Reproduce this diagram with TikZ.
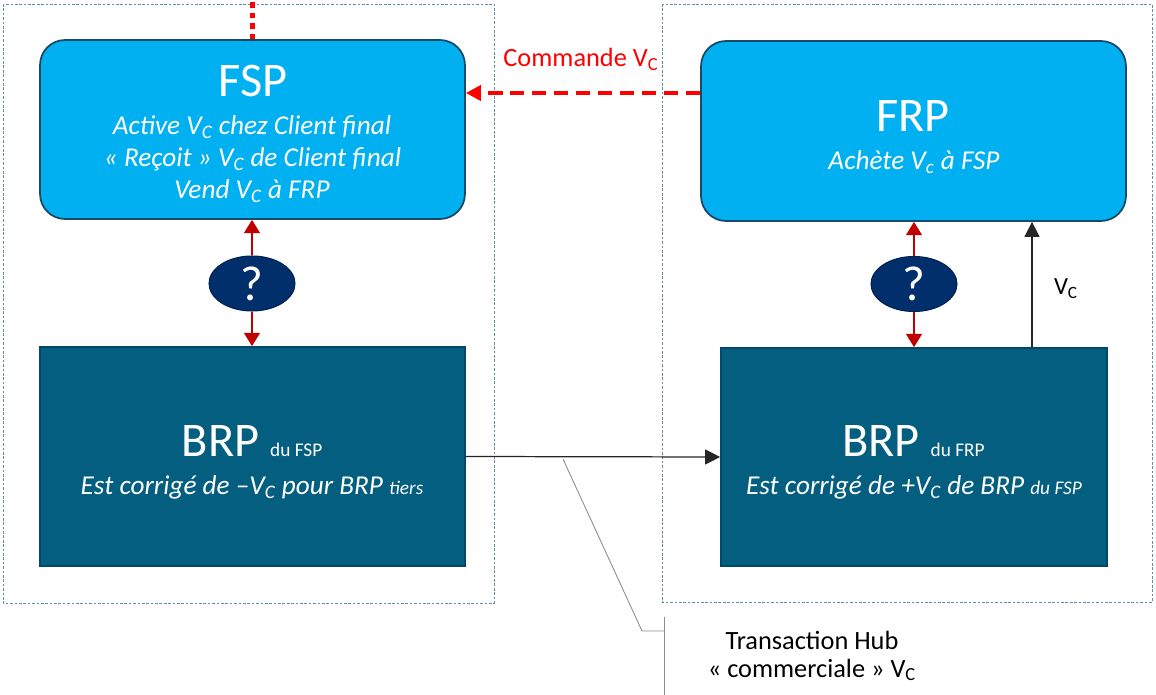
\documentclass[tikz,border=0pt]{standalone}
\usepackage{fontspec}
\setmainfont{Carlito}
\usepackage{tikz}
\usetikzlibrary{arrows.meta,shapes.geometric}

\definecolor{fspcyan}{HTML}{00B0F0}
\definecolor{boxedge}{HTML}{174A68}
\definecolor{brpteal}{HTML}{035E80}
\definecolor{brpedge}{HTML}{02486A}
\definecolor{qnavy}{HTML}{012F6C}
\definecolor{qedge}{HTML}{00224F}
\definecolor{linkred}{HTML}{C00000}
\definecolor{cmdred}{HTML}{FF0000}
\definecolor{framegray}{HTML}{5E8FA9}
\definecolor{hubgray}{HTML}{8C8C8C}

\newcommand{\Vc}{V\textsubscript{C}}

\tikzset{
  frame/.style={draw=framegray, line width=0.4pt, dash pattern=on 1.5pt off 1pt},
  rolebox/.style={rectangle, rounded corners=0.5cm, fill=fspcyan, draw=boxedge, line width=1pt, inner sep=0pt},
  brpbox/.style={rectangle, fill=brpteal, draw=brpedge, line width=1pt, inner sep=0pt},
  qmark/.style={ellipse, fill=qnavy, draw=qedge, line width=0.6pt, minimum width=1.72cm, minimum height=1.1cm,
    inner sep=0pt, text=white, font=\fontsize{28}{30}\selectfont},
  titletxt/.style={anchor=base, text=white, inner sep=0pt, font=\fontsize{27.5}{30}\selectfont},
  roletxt/.style={anchor=base, text=white, inner sep=0pt, font=\fontsize{15.5}{18}\selectfont\itshape},
  plaintxt/.style={anchor=base, inner sep=0pt, font=\fontsize{15}{17}\selectfont},
  linkarrow/.style={draw=linkred, line width=0.7pt, -{Triangle[length=7.5pt,width=9pt]}},
  flowarrow/.style={draw=black!85, line width=0.7pt, -{Triangle[length=8.5pt,width=8.5pt]}},
  cmdarrow/.style={draw=cmdred, line width=2.8pt, dash pattern=on 8pt off 4.5pt, -{Triangle[length=8.5pt,width=8.5pt]}},
  hubline/.style={draw=hubgray, line width=0.5pt}
}

\begin{document}
\begin{tikzpicture}[x=0.02cm,y=-0.02cm]
  \useasboundingbox (0,0) rectangle (1156,695);
  % \draw[help lines,step=50] (0,0) grid (1156,695);

  % dotted frames around both sides
  \draw[frame] (3,4) rectangle (494,603);
  \draw[frame] (662,4) rectangle (1152,602);

  % boxes
  \node[rolebox, minimum width=8.5cm, minimum height=3.58cm] (fsp) at (252.5,129.5) {};
  \node[rolebox, minimum width=8.5cm, minimum height=3.6cm] (frp) at (913.5,131) {};
  \node[brpbox, minimum width=8.5cm, minimum height=4.38cm] (brpfsp) at (252.5,456.5) {};
  \node[brpbox, minimum width=7.72cm, minimum height=4.36cm] (brpfrp) at (914,457) {};

  \node[qmark] (qfsp) at (252,283.5) {?};
  \node[qmark] (qfrp) at (914,284) {?};

  % texts in the boxes
  \node[titletxt] (fspname) at (253,96.7) {FSP};
  \node[roletxt] (fspa) at (252,135) {Active \Vc{} chez Client final};
  \node[roletxt] (fspb) at (252.5,166.7) {« Reçoit » \Vc{} de Client final};
  \node[roletxt] (fspc) at (252,199) {Vend \Vc{} à FRP};

  \node[titletxt] (frpname) at (913,131.7) {FRP};
  \node[roletxt] (frpa) at (914,170) {Achète V\textsubscript{c} à FSP};

  \node[titletxt] (brpfspname) at (252,456.7) {BRP {\fontsize{11}{13}\selectfont du FSP}};
  \node[roletxt] (brpfspa) at (252,495) {Est corrigé de \textendash\Vc{} pour BRP {\fontsize{11}{13}\selectfont tiers}};

  \node[titletxt] (brpfrpname) at (913.5,456.7) {BRP {\fontsize{11}{13}\selectfont du FRP}};
  \node[roletxt] (brpfrpa) at (914,495) {Est corrigé de +\Vc{} de BRP {\fontsize{11}{13}\selectfont du FSP}};

  % question marks to boxes
  \draw[linkarrow] (qfsp) -- (qfsp |- fsp.south);
  \draw[linkarrow] (qfsp) -- (qfsp |- brpfsp.north);
  \draw[linkarrow] (qfrp) -- (qfrp |- frp.south);
  \draw[linkarrow] (qfrp) -- (qfrp |- brpfrp.north);

  % Vc from BRP du FRP up to FRP
  \coordinate (vcx) at (1032,0);
  \draw[flowarrow] (brpfrp.north -| vcx) -- (frp.south -| vcx);
  \node[plaintxt, font=\fontsize{14}{16}\selectfont] (vclabel) at (1066,295) {\Vc};

  % command from FRP to FSP
  \coordinate (cmdy) at (0,93);
  \draw[cmdarrow] (frp.west |- cmdy) -- (fsp.east |- cmdy);
  \node[plaintxt, text=cmdred] (cmdlabel) at (581,66.7) {Commande \Vc};

  % dotted line leaving FSP at the top
  \coordinate (topedge) at (0,0);
  \draw[cmdred, line width=2.8pt, dash pattern=on 3pt off 3pt] (fsp.north) -- (fsp.north |- topedge);

  % BRP to BRP
  \draw[flowarrow] (brpfsp.east) -- (brpfrp.west);

  % callout for the hub transaction
  \coordinate (hubfoot) at (563,459);
  \coordinate (hubknee) at (642,631);
  \coordinate (hubbar) at (664,631);
  \coordinate (hubtop) at (664,617);
  \coordinate (hubbot) at (664,695);
  \draw[hubline] (hubfoot) -- (hubknee) -- (hubbar);
  \draw[hubline] (hubtop) -- (hubbot);
  \node[plaintxt] (huba) at (812,649) {Transaction Hub};
  \node[plaintxt] (hubb) at (812,677) {« commerciale » \Vc};

\end{tikzpicture}
\end{document}
